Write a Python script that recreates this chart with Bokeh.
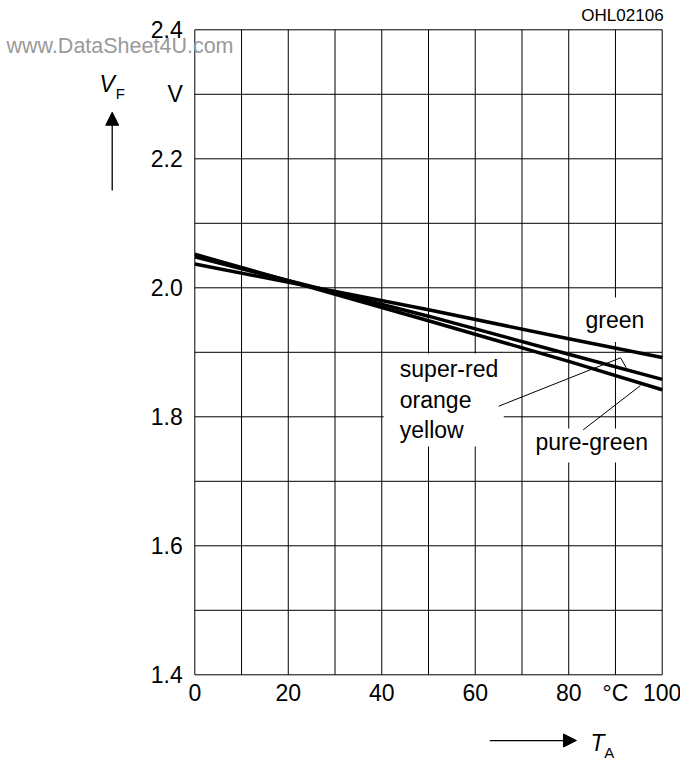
from bokeh.plotting import figure
from bokeh.models import Range1d, Label, Arrow, NormalHead
from bokeh.embed import file_html
from bokeh.resources import INLINE
from bokeh.core.properties import value

# ---------------- data ----------------
temp_c = [0, 50, 80, 100]
vf_green = [2.037, 1.966, 1.921, 1.892]
vf_super_red = [2.048, 1.956, 1.897, 1.858]    # super-red / orange / yellow
vf_pure_green = [2.052, 1.949, 1.886, 1.842]

x_ticks = [0, 20, 40, 60, 80, 90, 100]
x_tick_labels = ["0", "20", "40", "60", "80", "°C", "100"]
y_ticks = [1.4, 1.6, 1.8, 2.0, 2.2, 2.3, 2.4]
y_tick_labels = ["1.4", "1.6", "1.8", "2.0", "2.2", "V", "2.4"]
x_grid = [0, 10, 20, 30, 40, 50, 60, 70, 80, 90, 100]
y_grid = [1.4, 1.5, 1.6, 1.7, 1.8, 1.9, 2.0, 2.1, 2.2, 2.3, 2.4]

# leader lines (annotation positions)
lead_sr_x = [65.0, 91.1, 92.3]
lead_sr_y = [1.8164, 1.8915, 1.876]
lead_pg_x = [83.1, 95.35]
lead_pg_y = [1.7798, 1.8485]

# white backgrounds behind curve labels: (left, right, top, bottom)
label_boxes = [(40.4, 66.1, 1.898, 1.754), (82.0, 98.5, 1.985, 1.916), (72.0, 98.0, 1.782, 1.729)]

FONT = "Liberation Sans"
W, H = 680, 762
# layout of the plotting area on the canvas (pixels)
X0_PX, PX_PER_T = 194.3, 4.674
Y_TOP_PX, PX_PER_V = 29.3, 645.0

t_min, t_max = x_grid[0], x_grid[-1]
v_min, v_max = y_grid[0], y_grid[-1]
x_range = Range1d(t_min - X0_PX / PX_PER_T, t_min + (W - X0_PX) / PX_PER_T)
y_range = Range1d(v_max - (H - Y_TOP_PX) / PX_PER_V, v_max + Y_TOP_PX / PX_PER_V)

p = figure(width=W, height=H, output_backend="svg", toolbar_location=None,
           x_range=x_range, y_range=y_range, x_axis_type=None, y_axis_type=None,
           min_border=0)
p.min_border_left = p.min_border_right = p.min_border_top = p.min_border_bottom = 0
p.background_fill_color = "white"
p.border_fill_color = "white"
p.outline_line_color = None
p.grid.visible = False

# grid (incl. frame)
p.segment(x0=x_grid, y0=[v_min] * len(x_grid), x1=x_grid, y1=[v_max] * len(x_grid),
          line_color="black", line_width=1)
p.segment(x0=[t_min] * len(y_grid), y0=y_grid, x1=[t_max] * len(y_grid), y1=y_grid,
          line_color="black", line_width=1)

# white label backgrounds
p.quad(left=[b[0] for b in label_boxes], right=[b[1] for b in label_boxes],
       top=[b[2] for b in label_boxes], bottom=[b[3] for b in label_boxes],
       fill_color="white", line_color=None)

# tick labels
p.text(x=x_ticks, y=[v_min] * len(x_ticks), text=x_tick_labels,
       text_font=value(FONT), text_font_size=value("23px"), text_color="black",
       text_align="center", text_baseline="alphabetic", y_offset=18)
p.text(x=[t_min] * len(y_ticks), y=y_ticks, text=y_tick_labels,
       text_font=value(FONT), text_font_size=value("23px"), text_color="black",
       text_align="right", text_baseline="alphabetic", x_offset=-12, y_offset=0)

# curves
for ys in (vf_green, vf_super_red, vf_pure_green):
    p.line(temp_c, ys, line_color="black", line_width=3.5)

# leader lines
p.line(lead_sr_x, lead_sr_y, line_color="black", line_width=1)
p.line(lead_pg_x, lead_pg_y, line_color="black", line_width=1)


def lab(x, y, text, size="23px", style="normal", align="left", color="black"):
    p.add_layout(Label(x=x, y=y, text=text, text_font=FONT, text_font_size=size,
                       text_font_style=style, text_align=align, text_baseline="alphabetic",
                       text_color=color))


lab(83.6, 1.9496, "green")
lab(43.86, 1.8737, "super-red")
lab(43.86, 1.8256, "orange")
lab(43.86, 1.7791, "yellow")
lab(72.9, 1.7609, "pure-green")

# outer texts
lab(100.3, 2.4216, "OHL02106", size="17px", align="right")
lab(-20.4, 2.316, "V", style="italic")
lab(-16.9, 2.3005, "F", size="15px")
lab(84.66, 1.2943, "T", style="italic")
lab(87.6, 1.2803, "A", size="15px")

# axis arrows
p.add_layout(Arrow(end=NormalHead(size=13, fill_color="black", line_color="black"),
                   x_start=-17.67, y_start=2.1509, x_end=-17.67, y_end=2.2722,
                   line_color="black", line_width=1.3))
p.add_layout(Arrow(end=NormalHead(size=13, fill_color="black", line_color="black"),
                   x_start=63.11, y_start=1.2981, x_end=81.66, y_end=1.2981,
                   line_color="black", line_width=1.3))

# watermark
lab(-40.29, 2.3749, "www.DataSheet4U.com", size="21.5px", color="#9a9a9a")

open("out.html", "w").write(file_html(p, INLINE))
